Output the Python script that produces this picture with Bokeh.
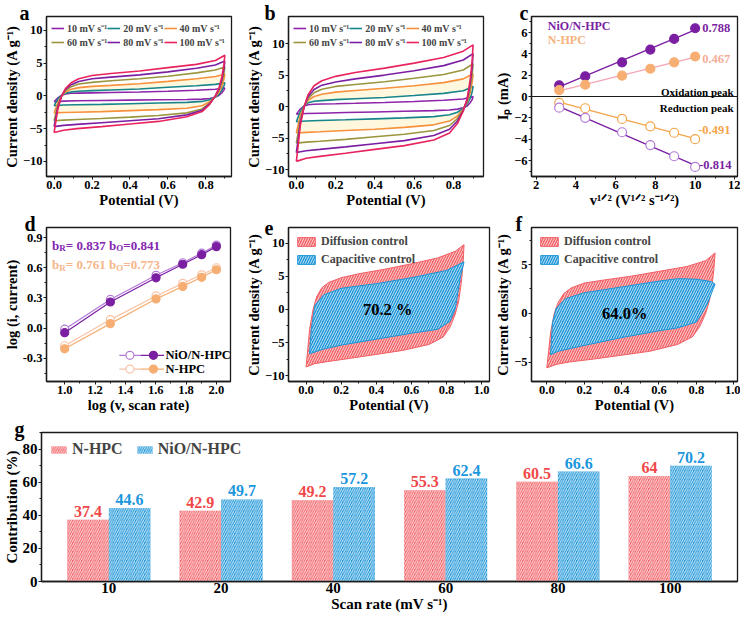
import numpy as np
from bokeh.plotting import figure
from bokeh.layouts import column, row
from bokeh.models import (Range1d, Label, Legend, LegendItem, FixedTicker,
                          ColumnDataSource, LabelSet, Span, PrintfTickFormatter)
from bokeh.core.properties import value
from bokeh.embed import file_html
from bokeh.resources import INLINE

# ---------------- data ----------------
scan_rates = [10, 20, 40, 60, 80, 100]
rate_labels = ["10", "20", "40", "60", "80", "100"]

# CV potentials (V): forward and reverse sweeps
E_fwd = [0.00, 0.01, 0.02, 0.04, 0.06, 0.09, 0.13, 0.20, 0.30, 0.45, 0.60, 0.75, 0.85, 0.90]
E_rev = [0.90, 0.895, 0.885, 0.87, 0.85, 0.82, 0.78, 0.70, 0.55, 0.40, 0.25, 0.12, 0.05, 0.00]

# panel a: current density (A/g)
a10_fwd = [-0.9, -0.6, -0.3, 0.1, 0.3, 0.4, 0.42, 0.45, 0.5, 0.58, 0.7, 0.85, 1.0, 1.2]
a20_fwd = [-1.5, -1.0, -0.5, 0.1, 0.4, 0.6, 0.7, 0.8, 0.9, 1.05, 1.3, 1.55, 1.75, 2.0]
a40_fwd = [-2.6, -1.8, -1.0, 0.0, 0.6, 1.0, 1.25, 1.45, 1.6, 1.85, 2.2, 2.6, 2.95, 3.3]
a60_fwd = [-3.8, -2.6, -1.4, 0.0, 0.8, 1.4, 1.8, 2.05, 2.3, 2.6, 3.0, 3.5, 3.95, 4.4]
a80_fwd = [-4.7, -3.2, -1.7, 0.0, 1.0, 1.7, 2.2, 2.6, 2.85, 3.2, 3.65, 4.2, 4.7, 5.3]
a100_fwd = [-5.6, -3.8, -2.0, 0.0, 1.1, 2.0, 2.6, 3.1, 3.4, 3.8, 4.3, 4.8, 5.4, 6.2]
a10_rev = [1.2, 0.9, 0.5, 0.1, -0.2, -0.4, -0.5, -0.55, -0.6, -0.65, -0.7, -0.75, -0.8, -0.9]
a20_rev = [2.0, 1.5, 0.9, 0.3, -0.2, -0.6, -0.85, -1.0, -1.1, -1.2, -1.3, -1.35, -1.4, -1.5]
a40_rev = [3.3, 2.5, 1.5, 0.6, -0.1, -0.9, -1.5, -1.9, -2.1, -2.25, -2.4, -2.5, -2.55, -2.6]
a60_rev = [4.4, 3.4, 2.1, 0.9, 0.0, -1.1, -2.0, -2.6, -3.0, -3.25, -3.45, -3.6, -3.7, -3.8]
a80_rev = [5.3, 4.1, 2.6, 1.1, 0.0, -1.2, -2.2, -2.9, -3.5, -3.8, -4.1, -4.35, -4.5, -4.7]
a100_rev = [6.2, 4.8, 3.0, 1.3, 0.0, -1.3, -2.4, -3.2, -3.9, -4.3, -4.7, -5.0, -5.25, -5.6]

# panel b: current density (A/g)
b10_fwd = [-1.2, -0.8, -0.4, 0.1, 0.3, 0.38, 0.42, 0.45, 0.52, 0.65, 0.8, 1.0, 1.2, 1.6]
b20_fwd = [-2.4, -1.6, -0.8, 0.2, 0.6, 0.85, 0.95, 1.1, 1.25, 1.45, 1.75, 2.1, 2.5, 3.2]
b40_fwd = [-4.2, -2.8, -1.4, 0.1, 1.0, 1.6, 1.95, 2.3, 2.55, 2.9, 3.3, 3.8, 4.4, 5.2]
b60_fwd = [-5.8, -4.0, -2.0, 0.1, 1.3, 2.2, 2.75, 3.2, 3.5, 3.95, 4.5, 5.1, 5.8, 6.8]
b80_fwd = [-7.3, -5.0, -2.5, 0.0, 1.6, 2.7, 3.4, 3.9, 4.4, 5.0, 5.7, 6.5, 7.4, 8.4]
b100_fwd = [-8.7, -6.0, -3.0, 0.0, 1.9, 3.3, 4.1, 4.8, 5.4, 6.1, 6.9, 7.8, 8.8, 9.8]
b10_rev = [1.6, 1.1, 0.6, 0.1, -0.2, -0.4, -0.55, -0.65, -0.75, -0.85, -0.95, -1.05, -1.1, -1.2]
b20_rev = [3.2, 2.3, 1.3, 0.4, -0.3, -0.9, -1.3, -1.6, -1.8, -1.95, -2.1, -2.2, -2.3, -2.4]
b40_rev = [5.2, 3.8, 2.2, 0.7, -0.4, -1.5, -2.3, -2.9, -3.3, -3.6, -3.8, -4.0, -4.1, -4.2]
b60_rev = [6.8, 5.0, 2.9, 0.9, -0.5, -1.9, -3.0, -3.8, -4.4, -4.8, -5.2, -5.5, -5.65, -5.8]
b80_rev = [8.4, 6.2, 3.6, 1.1, -0.6, -2.3, -3.6, -4.6, -5.4, -5.9, -6.4, -6.8, -7.0, -7.3]
b100_rev = [9.8, 7.2, 4.2, 1.3, -0.7, -2.7, -4.2, -5.3, -6.2, -6.8, -7.4, -7.9, -8.2, -8.7]

# panel c: peak currents (mA) vs v^1/2
c_nio_ox = [1.05, 1.9, 3.2, 4.4, 5.4, 6.4]
c_nhpc_ox = [0.6, 1.1, 1.95, 2.6, 3.2, 3.75]
c_nio_red = [-1.05, -2.0, -3.35, -4.55, -5.6, -6.6]
c_nhpc_red = [-0.6, -1.1, -2.1, -2.8, -3.4, -4.0]
c_slope_labels = ["0.788", "0.467", "-0.491", "-0.814"]

# panel d: log(i) vs log(v)
d_nio_open = [-0.01, 0.285, 0.525, 0.65, 0.745, 0.825]
d_nio_fill = [-0.045, 0.26, 0.50, 0.635, 0.73, 0.81]
d_nhpc_open = [-0.175, 0.085, 0.32, 0.445, 0.53, 0.60]
d_nhpc_fill = [-0.205, 0.045, 0.29, 0.415, 0.505, 0.58]

# panel e: capacitive part of NiO/N-HPC at 100 mV/s
e_cap_E_fwd = [0.02, 0.03, 0.05, 0.10, 0.20, 0.40, 0.60, 0.80, 0.90]
e_cap_fwd = [-6.7, -3.0, 0.6, 2.2, 3.2, 3.9, 4.8, 5.9, 7.2]
e_cap_E_rev = [0.90, 0.88, 0.87, 0.85, 0.82, 0.75, 0.60, 0.40, 0.20, 0.10, 0.02]
e_cap_rev = [7.2, 5.0, 3.4, 0.1, -1.8, -3.0, -3.6, -4.5, -5.4, -6.0, -6.7]
e_percent = "70.2 %"

# panel f: capacitive part of N-HPC at 100 mV/s
f_cap_E_fwd = [0.02, 0.03, 0.05, 0.10, 0.20, 0.40, 0.60, 0.70, 0.80, 0.88, 0.90]
f_cap_fwd = [-4.25, -1.0, 0.5, 1.5, 2.1, 2.7, 3.3, 3.55, 3.5, 3.25, 3.0]
f_cap_E_rev = [0.90, 0.88, 0.86, 0.83, 0.80, 0.70, 0.60, 0.40, 0.20, 0.06, 0.02]
f_cap_rev = [3.0, 2.0, 1.0, 0.0, -0.9, -1.5, -1.8, -2.5, -3.3, -3.9, -4.25]
f_percent = "64.0%"

# panel g: capacitive contribution (%)
g_nhpc = [37.4, 42.9, 49.2, 55.3, 60.5, 64]
g_nio = [44.6, 49.7, 57.2, 62.4, 66.6, 70.2]

# ---------------- styling ----------------
FONT = "Liberation Serif"
INK = "#1a1a1a"
cv_colors = ["#8E24AA", "#17858A", "#F7913D", "#9A963E", "#7B1FA2", "#E8245F"]
PURPLE = "#7B1FA2"
LPURPLE = "#B27AD6"
ORANGE = "#F5A54A"
PEACH = "#F6AE72"
PINK = "#F2A6B6"
LPEACH = "#F8C3A6"
RED = "#F26166"
BLUE = "#1E96D8"
TOP = 16          # top border of every panel (room for the panel letter)

TW = {' ': 250, '(': 333, ')': 333, '/': 278, '-': 333, '=': 570, '.': 250,
      'V': 722, 's': 389, 'v': 444, 'b': 556, 'R': 722, 'O': 778}


def tw(s, fs):
    return sum(TW.get(ch, 500) for ch in s) * fs / 1000.0


def fig(w, h, xr, yr, ml, mr, mt, mb):
    p = figure(width=w, height=h, x_range=Range1d(*xr), y_range=Range1d(*yr),
               output_backend="svg", toolbar_location=None,
               min_border_left=ml, min_border_right=mr,
               min_border_top=mt, min_border_bottom=mb)
    p.background_fill_color = "white"
    p.border_fill_color = "white"
    p.outline_line_color = INK
    p.outline_line_width = 1.3
    p.xgrid.visible = False
    p.ygrid.visible = False
    return p


def style(p, xlab, ylab, tick_fs="12.5px", lab_fs="14.5px"):
    for ax in (p.xaxis[0], p.yaxis[0]):
        ax.axis_line_color = INK
        ax.axis_line_width = 1.3
        ax.major_tick_line_color = INK
        ax.minor_tick_line_color = INK
        ax.major_tick_in = 0
        ax.major_tick_out = 3
        ax.minor_tick_in = 0
        ax.minor_tick_out = 2
        ax.major_label_text_font = FONT
        ax.major_label_text_font_style = "bold"
        ax.major_label_text_font_size = tick_fs
        ax.major_label_text_color = "black"
        ax.major_label_standoff = 1
        ax.axis_label_text_font = FONT
        ax.axis_label_text_font_style = "bold"
        ax.axis_label_text_font_size = lab_fs
        ax.axis_label_text_color = "black"
        ax.axis_label_standoff = 0
    p.xaxis[0].axis_label = xlab
    p.yaxis[0].axis_label = ylab


def letter(p, ch, dx):
    # panel letter drawn as the (left-shifted) title so it is not clipped by the frame
    p.title.text = ch
    p.title.align = "left"
    p.title.offset = dx
    p.title.standoff = -14
    p.title.vertical_align = "bottom"
    p.title.text_font = FONT
    p.title.text_font_style = "bold"
    p.title.text_font_size = "20px"
    p.title.text_color = "black"


def rich(p, x, y, parts, x_off=0, y_off=0):
    off = x_off
    for t, fs, dy, st, col in parts:
        lead = len(t) - len(t.lstrip())
        off += lead * 250 * fs / 1000.0
        t2 = t.lstrip()
        p.add_layout(Label(x=x, y=y, x_offset=off, y_offset=y_off + dy, text=t2,
                           text_font=FONT, text_font_size=f"{fs}px", text_font_style=st,
                           text_color=col, text_baseline="alphabetic", text_align="left"))
        off += tw(t2, fs)


def text(p, x, y, s, fs, col, align="left", base="middle", xo=0, yo=0, style_="bold"):
    p.add_layout(Label(x=x, y=y, x_offset=xo, y_offset=yo, text=s, text_font=FONT,
                       text_font_size=f"{fs}px", text_font_style=style_, text_color=col,
                       text_align=align, text_baseline=base))


f1 = PrintfTickFormatter(format="%.1f")

# ---------------- panels a & b ----------------
def cv_panel(w, xr, yr, ml, mr, fwd, rev, ltr, ldx):
    p = fig(w, 211, xr, yr, ml, mr, TOP, 35)
    style(p, "Potential (V)", "Current density (A g⁻¹)")
    p.xaxis.ticker = FixedTicker(ticks=[0, 0.2, 0.4, 0.6, 0.8], minor_ticks=[0.1, 0.3, 0.5, 0.7, 0.9])
    p.xaxis.formatter = f1
    p.yaxis.ticker = FixedTicker(ticks=[-10, -5, 0, 5, 10], minor_ticks=[-7.5, -2.5, 2.5, 7.5])
    # faint yellow tint inside the mid-rate loop
    p.patch(E_fwd + E_rev, fwd[2] + rev[2], fill_color="#FFF3C4", fill_alpha=0.55, line_color=None)
    p.patch(E_fwd + E_rev, fwd[1] + rev[1], fill_color="white", fill_alpha=1.0, line_color=None)
    items = []
    for lab, col, f, r in zip(rate_labels, cv_colors, fwd, rev):
        rr = p.line(E_fwd + E_rev, f + r, line_color=col, line_width=1.6)
        items.append(LegendItem(label=f"{lab} mV s⁻¹", renderers=[rr]))
    leg = Legend(items=items, orientation="horizontal", ncols=3, location="top_left",
                 margin=5, padding=2, spacing=0, label_standoff=3,
                 glyph_width=13, glyph_height=12, label_height=12,
                 label_text_font=FONT, label_text_font_style="bold",
                 label_text_font_size="10px", border_line_color=None,
                 background_fill_alpha=0)
    p.add_layout(leg)
    letter(p, ltr, ldx)
    return p


a_fwd = [a10_fwd, a20_fwd, a40_fwd, a60_fwd, a80_fwd, a100_fwd]
a_rev = [a10_rev, a20_rev, a40_rev, a60_rev, a80_rev, a100_rev]
b_fwd = [b10_fwd, b20_fwd, b40_fwd, b60_fwd, b80_fwd, b100_fwd]
b_rev = [b10_rev, b20_rev, b40_rev, b60_rev, b80_rev, b100_rev]

pa = cv_panel(242, (-0.04, 0.935), (-12.3, 12.1), 37, 11, a_fwd, a_rev, "a", -27)
pb = cv_panel(250, (-0.04, 0.953), (-11.1, 14.3), 35, 9, b_fwd, b_rev, "b", -24)

# ---------------- panel c ----------------
c_x = np.sqrt(np.array(scan_rates, dtype=float))
pc = fig(248, 211, (1.77, 12.13), (-7.5, 7.5), 36, 3, TOP, 35)
style(pc, "v¹ᐟ² (V¹ᐟ² s⁻¹ᐟ²)", "Iₚ (mA)")
pc.xaxis.ticker = FixedTicker(ticks=[2, 4, 6, 8, 10, 12], minor_ticks=[3, 5, 7, 9, 11])
pc.yaxis.ticker = FixedTicker(ticks=[-6, -4, -2, 0, 2, 4, 6], minor_ticks=[-7, -5, -3, -1, 1, 3, 5, 7])
pc.add_layout(Span(location=0, dimension="width", line_color=INK, line_width=1.2))
series_c = [
    (c_nio_ox, PURPLE, PURPLE, PURPLE, c_slope_labels[0], PURPLE, 0, 7),
    (c_nhpc_ox, PINK, PEACH, PEACH, c_slope_labels[1], "#F4AE98", -2, 7),
    (c_nhpc_red, ORANGE, "white", ORANGE, c_slope_labels[2], ORANGE, 9, 3),
    (c_nio_red, PURPLE, "white", LPURPLE, c_slope_labels[3], PURPLE, 2, 4),
]
for ys, lc, fc, mc, slab, tc, yo, xo in series_c:
    m, b0 = np.polyfit(c_x, ys, 1)
    xs = np.array([c_x[0], c_x[-1]])
    pc.line(xs, m * xs + b0, line_color=lc, line_width=1.4)
    pc.scatter(c_x, ys, marker="circle", size=9, fill_color=fc, line_color=mc, line_width=1.2)
    text(pc, c_x[-1], ys[-1], slab, 12.5, tc, xo=xo, yo=yo)
text(pc, 2.59, 6.6, "NiO/N-HPC", 12, PURPLE)
text(pc, 2.59, 5.26, "N-HPC", 12, "#F5B27E")
text(pc, 12.13, 0.45, "Oxidation peak", 11, "black", align="right", base="alphabetic", xo=-4)
text(pc, 12.13, -1.1, "Reduction peak", 11, "black", align="right", base="alphabetic", xo=-4)
letter(pc, "c", -12)

# ---------------- panel d ----------------
d_x = np.log10(np.array(scan_rates, dtype=float))
pd_ = fig(242, 205, (0.88, 2.093), (-0.53, 1.0), 37, 12, TOP, 35)
style(pd_, "log (v, scan rate)", "log (i, current)")
pd_.xaxis.ticker = FixedTicker(ticks=[1.0, 1.2, 1.4, 1.6, 1.8, 2.0], minor_ticks=[1.1, 1.3, 1.5, 1.7, 1.9])
pd_.xaxis.formatter = f1
pd_.yaxis.ticker = FixedTicker(ticks=[-0.3, 0.0, 0.3, 0.6, 0.9], minor_ticks=[-0.45, -0.15, 0.15, 0.45, 0.75])
pd_.yaxis.formatter = f1
for ys, col, fc in [(d_nhpc_open, LPEACH, "white"), (d_nhpc_fill, PEACH, PEACH),
                    (d_nio_open, LPURPLE, "white"), (d_nio_fill, PURPLE, PURPLE)]:
    pd_.line(d_x, ys, line_color=col, line_width=1.2)
    pd_.scatter(d_x, ys, marker="circle", size=8, fill_color=fc, line_color=col, line_width=1.2)
# manual legend (open + filled symbols)
for yy, c_open, c_fill, lab in [(-0.27, LPURPLE, PURPLE, "NiO/N-HPC"), (-0.407, LPEACH, PEACH, "N-HPC")]:
    pd_.line([1.36, 1.50], [yy, yy], line_color=c_open, line_width=1.2)
    pd_.line([1.50, 1.655], [yy, yy], line_color=c_fill, line_width=1.2)
    pd_.scatter([1.43], [yy], marker="circle", size=8, fill_color="white", line_color=c_open, line_width=1.2)
    pd_.scatter([1.585], [yy], marker="circle", size=8, fill_color=c_fill, line_color=c_fill, line_width=1.2)
    text(pd_, 1.665, yy, lab, 12.5, "black")
for yy, col, br, bo in [(0.825, "#8424B0", "0.837", "0.841"), (0.63, "#F6B58A", "0.761", "0.773")]:
    rich(pd_, 0.917, yy, [("b", 13, 0, "bold", col), ("R", 9, -3, "bold", col),
                          ("= " + br + " b", 13, 0, "bold", col), ("O", 9, -3, "bold", col),
                          ("=" + bo, 13, 0, "bold", col)])
letter(pd_, "d", -22)


# ---------------- panels e & f ----------------
def split_panel(w, xr, yr, ml, mr, outer_f, outer_r, cEf, cf, cEr, cr, pct, px, ltr, ldx):
    p = fig(w, 205, xr, yr, ml, mr, TOP, 35)
    style(p, "Potential (V)", "Current density (A g⁻¹)")
    p.xaxis.ticker = FixedTicker(ticks=[0, 0.2, 0.4, 0.6, 0.8, 1.0], minor_ticks=[0.1, 0.3, 0.5, 0.7, 0.9])
    p.xaxis.formatter = f1
    hatch = dict(hatch_pattern="/", hatch_color="white", hatch_alpha=0.75, hatch_scale=5, hatch_weight=1)
    r1 = p.patch(E_fwd + E_rev, outer_f + outer_r, fill_color=RED, line_color=RED, line_width=1, **hatch)
    r2 = p.patch(cEf + cEr, cf + cr, fill_color=BLUE, line_color=BLUE, line_width=1, **hatch)
    leg = Legend(items=[LegendItem(label="Diffusion control", renderers=[r1]),
                        LegendItem(label="Capacitive control", renderers=[r2])],
                 location="top_left", margin=7, padding=3, spacing=3, label_standoff=4,
                 glyph_width=22, glyph_height=11, label_height=12,
                 label_text_font=FONT, label_text_font_style="bold", label_text_font_size="12px",
                 border_line_color=None, background_fill_alpha=0)
    p.add_layout(leg)
    text(p, px, 0, pct, 16.5, "black", align="center")
    letter(p, ltr, ldx)
    return p


pe = split_panel(250, (-0.1, 1.045), (-10.9, 12.4), 37, 3, b100_fwd, b100_rev,
                 e_cap_E_fwd, e_cap_fwd, e_cap_E_rev, e_cap_rev, e_percent, 0.465, "e", -24)
pe.yaxis.ticker = FixedTicker(ticks=[-10, -5, 0, 5, 10], minor_ticks=[-7.5, -2.5, 2.5, 7.5])
pf = split_panel(248, (-0.082, 1.02), (-7.0, 8.8), 39, 3, a100_fwd, a100_rev,
                 f_cap_E_fwd, f_cap_fwd, f_cap_E_rev, f_cap_rev, f_percent, 0.417, "f", -16)
pf.yaxis.ticker = FixedTicker(ticks=[-5, 0, 5], minor_ticks=[-2.5, 2.5, 7.5])

# ---------------- panel g ----------------
idx = np.arange(len(rate_labels))
W = 0.37
src_n = ColumnDataSource(dict(x=idx - W / 2, top=g_nhpc, lab=[f"{v:g}" for v in g_nhpc]))
src_o = ColumnDataSource(dict(x=idx + W / 2, top=g_nio, lab=[f"{v:g}" for v in g_nio]))
pg = fig(740, 202, (-0.6, 5.6), (0, 90.3), 38, 3, TOP, 37)
style(pg, "Scan rate (mV s⁻¹)", "Contribution (%)", tick_fs="15px", lab_fs="15px")
pg.xaxis.ticker = FixedTicker(ticks=list(idx))
pg.xaxis.major_label_overrides = {int(i): s for i, s in zip(idx, rate_labels)}
pg.xaxis.major_tick_out = 0
pg.xaxis.minor_tick_out = 0
pg.yaxis.ticker = FixedTicker(ticks=[0, 20, 40, 60, 80], minor_ticks=[10, 30, 50, 70, 90])
ghatch = dict(hatch_pattern="/", hatch_color="white", hatch_alpha=0.8, hatch_scale=4.5, hatch_weight=1)
rn = pg.vbar(x="x", top="top", width=W, source=src_n, fill_color=RED, line_color=None, **ghatch)
ro = pg.vbar(x="x", top="top", width=W, source=src_o, fill_color=BLUE, line_color=None, **ghatch)
for src, col in [(src_n, "#F04848"), (src_o, "#1C96DC")]:
    pg.add_layout(LabelSet(x="x", y="top", text="lab", source=src, y_offset=3,
                           text_align="center", text_baseline="alphabetic",
                           text_font=value(FONT), text_font_style="bold",
                           text_font_size="16px", text_color=col))
gleg = Legend(items=[LegendItem(label="N-HPC", renderers=[rn]),
                     LegendItem(label="NiO/N-HPC", renderers=[ro])],
              orientation="horizontal", location="top_left", margin=8, padding=2,
              spacing=12, label_standoff=4, glyph_width=19, glyph_height=9, label_height=16,
              label_text_font=FONT, label_text_font_style="bold", label_text_font_size="16px",
              border_line_color=None, background_fill_alpha=0)
pg.add_layout(gleg)
letter(pg, "g", -27)

layout = column(row(pa, pb, pc), row(pd_, pe, pf), pg)
open("out.html", "w").write(file_html(layout, INLINE))
